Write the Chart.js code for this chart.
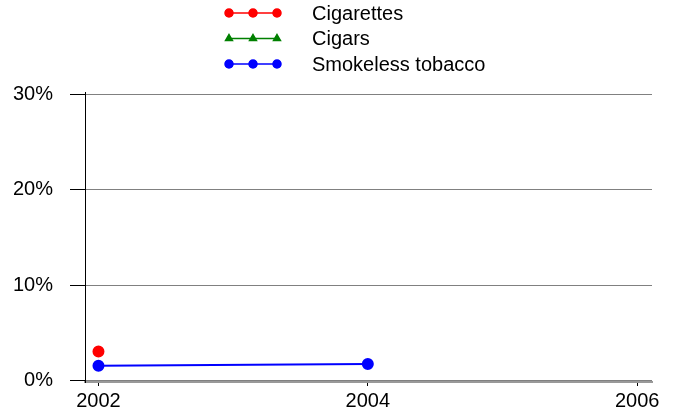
<!DOCTYPE html>
<html>
<head>
<meta charset="utf-8">
<script src="https://cdn.jsdelivr.net/npm/chart.js@4"></script>
<style>
  html, body { margin: 0; padding: 0; background: #fff; }
  #wrap { width: 673px; height: 414px; }
</style>
</head>
<body>
<div id="wrap"><canvas id="tobaccoChart" width="673" height="414"></canvas></div>
<script>
// values (percent)
const years = [2002, 2004];
const cigarettes = [3.0, null];
const cigars = [null, null];
const smokeless = [1.5, 1.7];
const xTicks = [2002, 2004, 2006];
const yTicks = [0, 10, 20, 30];

function pts(vals) {
    return years.map(function (y, i) { return { x: y, y: vals[i] }; });
}

// legend drawn like the original: a line with three markers
const lineLegend = {
    id: 'lineLegend',
    afterDraw: function (chart) {
        let ctx = chart.ctx;
        ctx.save();
        chart.data.datasets.forEach(function (ds, i) {
            let y = 13 + i * 25.5;
            ctx.strokeStyle = ds.borderColor;
            ctx.lineWidth = 1.5;
            ctx.beginPath();
            ctx.moveTo(229, y);
            ctx.lineTo(277, y);
            ctx.stroke();
            [229, 253, 277].forEach(function (x) {
                Chart.helpers.drawPoint(ctx, {
                    pointStyle: ds.pointStyle,
                    radius: 4,
                    rotation: 0,
                    borderWidth: 1
                }, x, y);
                ctx.fillStyle = ds.backgroundColor;
                ctx.strokeStyle = ds.borderColor;
                ctx.fill();
            });
            ctx.fillStyle = '#000';
            ctx.font = '20px "Liberation Sans", Arial, sans-serif';
            ctx.textAlign = 'left';
            ctx.textBaseline = 'middle';
            ctx.fillText(ds.label, 312, y + 1);
        });
        ctx.restore();
    }
};

let ctx = document.getElementById('tobaccoChart').getContext('2d');
let tobaccoChart = new Chart(ctx, {
    type: 'line',
    data: {
        datasets: [
            {
                label: 'Cigarettes',
                data: pts(cigarettes),
                borderColor: '#ff0000',
                backgroundColor: '#ff0000',
                pointStyle: 'circle',
                pointRadius: 5,
                borderWidth: 2
            },
            {
                label: 'Cigars',
                data: pts(cigars),
                borderColor: '#008000',
                backgroundColor: '#008000',
                pointStyle: 'triangle',
                pointRadius: 5,
                borderWidth: 2
            },
            {
                label: 'Smokeless tobacco',
                data: pts(smokeless),
                borderColor: '#0000ff',
                backgroundColor: '#0000ff',
                pointStyle: 'circle',
                pointRadius: 5,
                borderWidth: 2
            }
        ]
    },
    options: {
        responsive: false,
        animation: false,
        layout: { padding: { top: 92, right: 21, left: 0, bottom: 0 } },
        plugins: {
            legend: { display: false },
            tooltip: { enabled: false }
        },
        scales: {
            x: {
                type: 'linear',
                min: 2001.9,
                max: 2006.11,
                afterBuildTicks: function (scale) {
                    scale.ticks = xTicks.map(function (v) { return { value: v }; });
                },
                afterFit: function (scale) { scale.height = 32; },
                grid: {
                    drawOnChartArea: false,
                    drawTicks: true,
                    tickLength: 4,
                    color: '#000'
                },
                border: { color: '#999', width: 2 },
                ticks: {
                    color: '#000',
                    padding: 3,
                    maxRotation: 0,
                    font: { family: '"Liberation Sans", Arial, sans-serif', size: 20 },
                    callback: function (v) { return String(v); }
                }
            },
            y: {
                min: -0.2,
                max: 30.3,
                afterBuildTicks: function (scale) {
                    scale.ticks = yTicks.map(function (v) { return { value: v }; });
                },
                afterFit: function (scale) { scale.width = 85; },
                grid: {
                    color: '#808080',
                    tickColor: '#000',
                    tickLength: 15,
                    lineWidth: 1
                },
                border: { color: '#000', width: 1 },
                ticks: {
                    color: '#000',
                    padding: 17,
                    font: { family: '"Liberation Sans", Arial, sans-serif', size: 20 },
                    callback: function (v) { return v + '%'; }
                }
            }
        }
    },
    plugins: [lineLegend]
});
</script>
</body>
</html>
